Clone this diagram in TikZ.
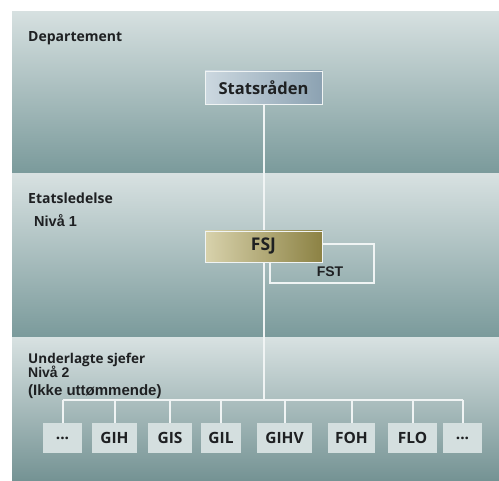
\documentclass[tikz,border=0pt]{standalone}
\usepackage{fontspec}
\setmainfont{Open Sans}
\newfontfamily\hum{Open Sans}
\newfontfamily\ari{Liberation Sans}
\definecolor{bandtop}{RGB}{214,224,224}
\definecolor{bandbot}{RGB}{122,154,155}
\definecolor{linec}{RGB}{240,244,244}
\definecolor{txt}{RGB}{30,32,34}
\definecolor{stl}{RGB}{204,216,224}
\definecolor{str}{RGB}{140,162,178}
\definecolor{fsl}{RGB}{216,210,172}
\definecolor{fsr}{RGB}{140,130,68}
\definecolor{lowbox}{RGB}{212,223,223}
\tikzset{
  conn/.style={draw=linec, line width=2pt},
  toplabel/.style={anchor=base west, inner sep=0pt, text=txt, font=\hum\bfseries\fontsize{14}{16}\selectfont},
  arilabel/.style={anchor=base west, inner sep=0pt, text=txt, font=\ari\bfseries\fontsize{14.5}{16}\selectfont},
  lowbox/.style={fill=lowbox, draw=none, minimum height=30pt, inner sep=0pt, text=txt, font=\hum\bfseries\fontsize{15.5}{17}\selectfont},
}
\begin{document}
\begin{tikzpicture}[x=1pt,y=-1pt]
\useasboundingbox (0,0) rectangle (499,481);
\fill[white] (0,0) rectangle (499,481);
% bands
\shade[top color=bandtop, bottom color=bandbot] (12,12) rectangle (499,173.5);
\shade[top color=bandtop!96!white, bottom color=bandbot] (12,173.5) rectangle (499,337.5);
\shade[top color=bandtop!96!white, bottom color=bandbot!95!black] (12,337.5) rectangle (499,481);
% section labels
\node[toplabel] (dep) at (28,42) {Departement};
\node[toplabel] (etat) at (28,204) {Etatsledelse};
\node[arilabel] (niv1) at (34,227) {Nivå 1};
\node[toplabel, font=\hum\bfseries\fontsize{13.5}{15}\selectfont] (under) at (28,363.5) {Underlagte sjefer};
\node[arilabel, font=\ari\bfseries\fontsize{14}{16}\selectfont] (niv2) at (28,377.5) {Nivå 2};
\node[arilabel, font=\ari\bfseries\fontsize{15}{17}\selectfont] (ikke) at (28,396) {(Ikke uttømmende)};
% top box
\node[draw=linec, line width=0.8pt, left color=stl, right color=str, minimum width=117pt, minimum height=33pt, inner sep=0pt, text=txt, font=\hum\bfseries\fontsize{16.5}{18}\selectfont] (stats) at (263.5,87.5) {Statsråden};
% bottom boxes
\node[lowbox, minimum width=39pt] (b1) at (62.5,438) {...};
\node[lowbox, minimum width=45pt] (b2) at (114.5,438) {GIH};
\node[lowbox, minimum width=44pt] (b3) at (170,438) {GIS};
\node[lowbox, minimum width=40pt] (b4) at (221,438) {GIL};
\node[lowbox, minimum width=55pt] (b5) at (284.5,438) {GIHV};
\node[lowbox, minimum width=47pt] (b6) at (351.5,438) {FOH};
\node[lowbox, minimum width=49pt] (b7) at (412.5,438) {FLO};
\node[lowbox, minimum width=39pt] (b8) at (462.5,438) {...};
\coordinate (bus) at (263.5,400);
% connectors
\draw[conn] (stats.south) -- (bus);
\draw[conn] (b1.north |- bus) -- (b8.north |- bus);
\foreach \b in {b1,b2,b3,b4,b5,b6,b7,b8}{
  \draw[conn] (\b.north) -- (\b.north |- bus);
}
% FST box
\node[draw=linec, line width=1.2pt, minimum width=104pt, minimum height=39pt, inner sep=0pt,
  label={[text=txt, font=\ari\bfseries\fontsize{14}{16}\selectfont, xshift=8pt, yshift=-8pt]center:FST}] (fst) at (322,263.5) {};
% FSJ box
\node[draw=linec, line width=0.8pt, left color=fsl, right color=fsr, minimum width=117pt, minimum height=31pt, inner sep=0pt, text=txt, font=\hum\bfseries\fontsize{17.5}{19}\selectfont] (fsj) at (263.5,246.5) {FSJ};
\end{tikzpicture}
\end{document}
